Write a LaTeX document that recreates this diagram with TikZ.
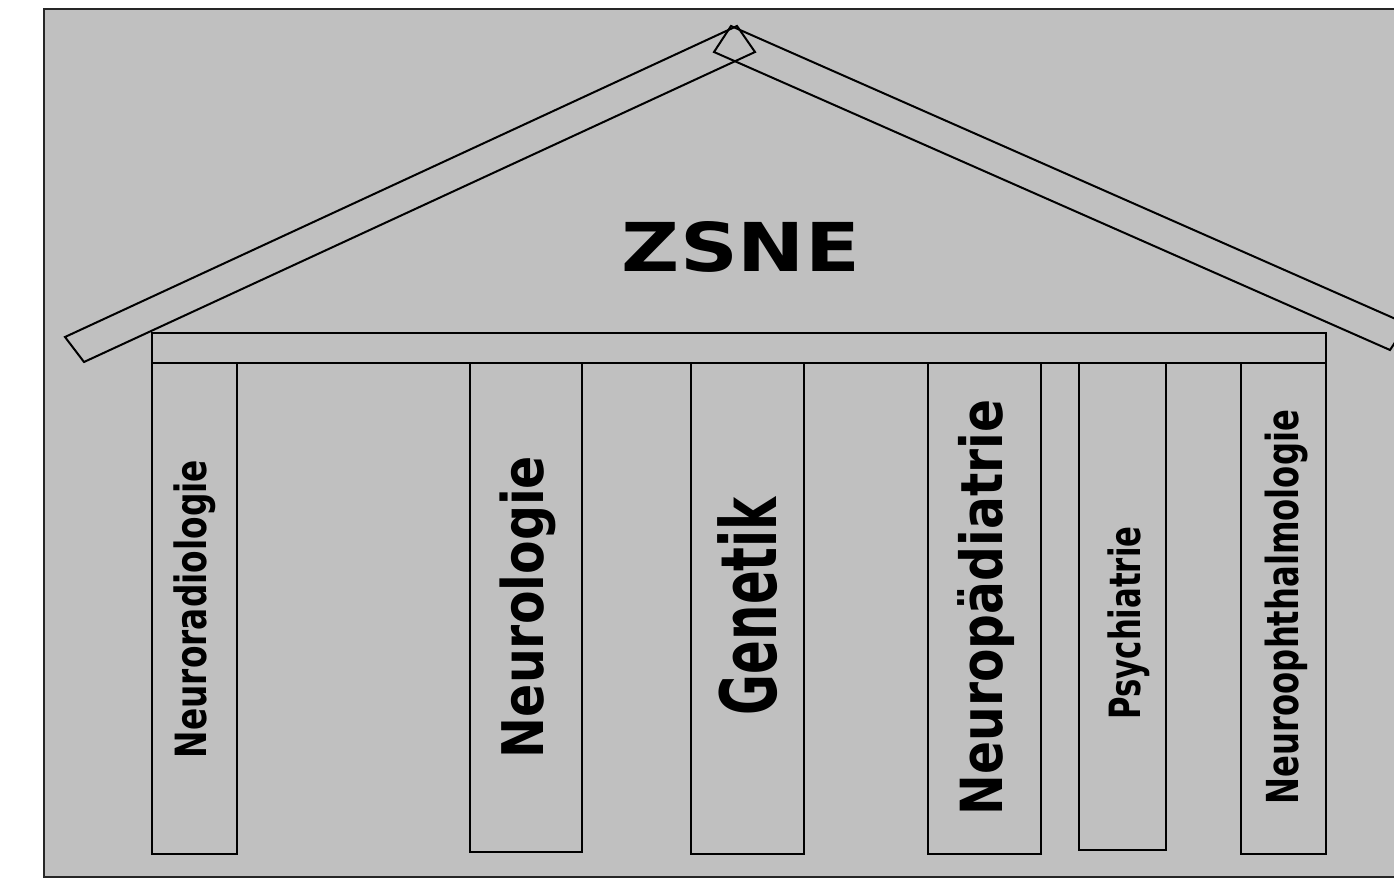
\documentclass[tikz,border=0pt]{standalone}
\usepackage{fontspec}
\setmainfont{DejaVu Sans}
\usepackage{graphicx}
\definecolor{wallgrey}{RGB}{192,192,192}
% text stretched to a given length and total height
\newcommand{\fitword}[3]{\resizebox*{#1}{#2}{\bfseries #3}}
\begin{document}
\begin{tikzpicture}[x=1pt,y=-1pt,
  outline/.style={draw=black, line width=2pt, line join=miter},
  pillar/.style={outline, line width=2.5pt, rectangle, inner sep=0pt},
  colname/.style={rotate=90, inner sep=0pt, text=black},
]
\useasboundingbox (0,0) rectangle (1394,883);
\fill[white] (0,0) rectangle (1394,883);
\clip (0,0) rectangle (1394,883);

% wall
\draw[fill=wallgrey, draw=black!85, line width=2.5pt] (44,9) rectangle (1430,877);

% roof beams
\coordinate (la) at (737,26);
\coordinate (lb) at (755,52);
\coordinate (lc) at (84,362);
\coordinate (ld) at (65,337);
\coordinate (ra) at (731,26);
\coordinate (rb) at (714,52);
\coordinate (rc) at (1390,350);
\coordinate (rd) at (1407,324);
\draw[outline] (la) -- (lb) -- (lc) -- (ld) -- cycle;
\draw[outline] (ra) -- (rb) -- (rc) -- (rd) -- cycle;

% lintel
\node[pillar, minimum width=1174pt, minimum height=30pt] (lintel) at (739,348) {};

% columns
\node[pillar, minimum width=85pt,  minimum height=491pt] (c1) at (194.5,608.5) {};
\node[pillar, minimum width=112pt, minimum height=489pt] (c2) at (526,607.5) {};
\node[pillar, minimum width=113pt, minimum height=491pt] (c3) at (747.5,608.5) {};
\node[pillar, minimum width=113pt, minimum height=491pt] (c4) at (984.5,608.5) {};
\node[pillar, minimum width=87pt,  minimum height=487pt] (c5) at (1122.5,606.5) {};
\node[pillar, minimum width=85pt,  minimum height=491pt] (c6) at (1283.5,608.5) {};

% title
\node[inner sep=0pt] (title) at (741,247) {\resizebox{238pt}{50pt}{\bfseries ZSNE}};

% column names
\node[colname] (n1) at (195,609)     {\fitword{298pt}{42pt}{Neuroradiologie}};
\node[colname] (n2) at (528,607)     {\fitword{302pt}{56pt}{Neurologie}};
\node[colname] (n3) at (748,606)     {\fitword{218pt}{60pt}{Genetik}};
\node[colname] (n4) at (986.5,607.5) {\fitword{415pt}{57pt}{Neuropädiatrie}};
\node[colname] (n5) at (1129,623)    {\fitword{193pt}{42pt}{Psychiatrie}};
\node[colname] (n6) at (1286,607)    {\fitword{394pt}{43pt}{Neuroophthalmologie}};
\end{tikzpicture}
\end{document}
